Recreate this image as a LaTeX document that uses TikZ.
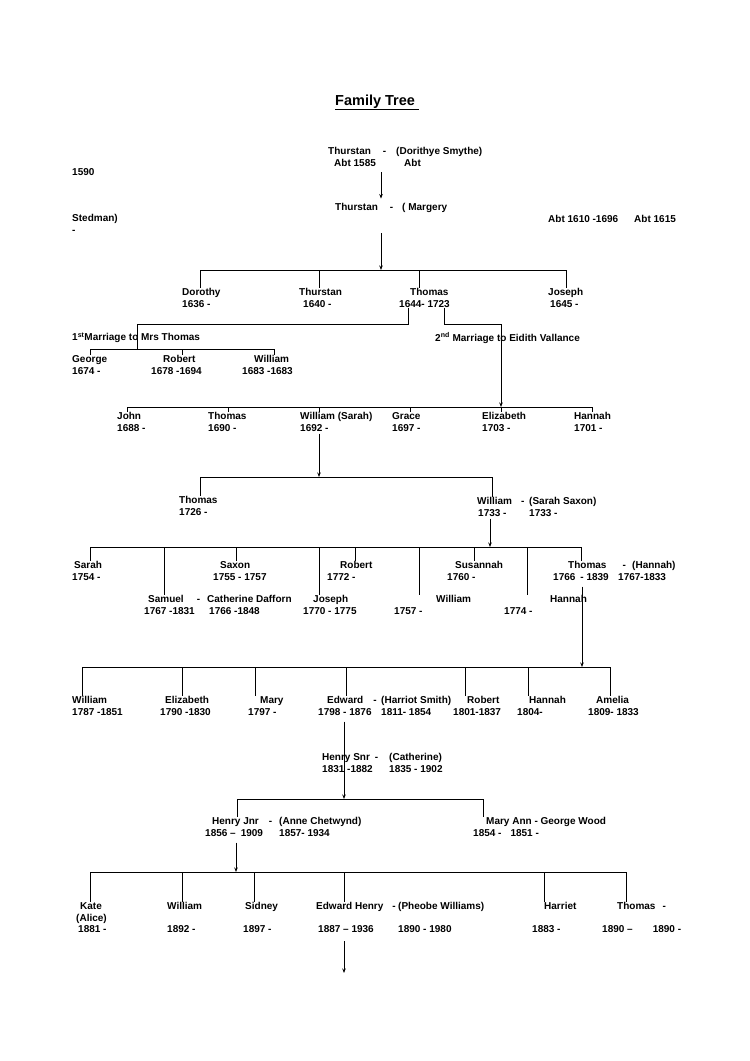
\documentclass[tikz,border=0pt]{standalone}
\usepackage{fontspec}
\setmainfont{Liberation Sans}
\usetikzlibrary{arrows.meta}
\newcommand{\treefont}{\fontsize{10}{11.5}\selectfont\bfseries}

\begin{document}
\begin{tikzpicture}[
  x=1pt, y=-1pt,
  person/.style={anchor=north west, inner sep=0pt, align=left, font=\treefont, yshift=4.45pt},
  heading/.style={anchor=base west, inner sep=0pt, font=\fontsize{14.5}{17}\selectfont\bfseries},
  link/.style={line width=0.9pt},
  arrow/.style={link, -{Stealth[length=4.5pt, width=3.5pt]}}
]
\useasboundingbox[fill=white] (0,0) rectangle (750,1061);

\node[heading] (title) at (335,105) {\underline{Family Tree\ }};

% Thurstan and Dorithye
\node[person] (thurstan1) at (328,151) {\strut Thurstan\hspace{12pt}-\\\hspace*{6pt}Abt 1585};
\node[person] (dorithye) at (396,151) {\strut(Dorithye Smythe)\\\hspace*{8pt}Abt};
\node[person] (born1590) at (72,172) {\strut 1590};
\coordinate (top1) at (381,172);

\node[person] (thurstan2) at (335,207) {\strut Thurstan\hspace{12pt}-};
\node[person] (margery) at (402,207) {\strut( Margery};
\node[person] (stedman) at (72,218) {\strut Stedman)\\-};
\node[person] (life2) at (548,219) {\strut Abt 1610 -1696};
\node[person] (born1615) at (634,219) {\strut Abt 1615};
\coordinate (top2) at (381,233);

\draw[arrow, shorten >=4pt] (top1) -- (top1 |- thurstan2.north);

% children of Thurstan
\node[person] (dorothy) at (182,292) {\strut Dorothy\\1636 -};
\node[person] (thurstan3) at (299,292) {\strut Thurstan\\\hspace*{4pt}1640 -};
\node[person] (thomas1) at (399,292) {\strut\hspace*{11pt}Thomas\\1644- 1723};
\node[person] (joseph1) at (548,292) {\strut Joseph\\\hspace*{2pt}1645 -};

\coordinate (g1) at (381,270);
\coordinate (g1a) at (200,270);
\coordinate (g1b) at (319,270);
\coordinate (g1c) at (419,270);
\coordinate (g1d) at (566,270);
\draw[arrow] (top2) -- (g1);
\draw[link] (g1a) -- (g1d);
\draw[link] (g1a) -- (g1a |- dorothy.north);
\draw[link] (g1b) -- (g1b |- thurstan3.north);
\draw[link] (g1c) -- (g1c |- thomas1.north);
\draw[link] (g1d) -- (g1d |- joseph1.north);

% two marriages of Thomas
\node[person] (marriage1) at (72,337) {\strut 1\textsuperscript{st}Marriage to Mrs Thomas};
\node[person] (marriage2) at (435,337) {\strut 2\textsuperscript{nd} Marriage to Eidith Vallance};
\coordinate (wed1) at (408,324);
\coordinate (wed1end) at (137,324);
\coordinate (wed2) at (444,324);
\coordinate (wed2end) at (501,324);
\draw[link] (thomas1.south -| wed1) -- (wed1) -- (wed1end);
\draw[link] (thomas1.south -| wed2) -- (wed2) -- (wed2end);

% first marriage
\node[person] (george) at (72,359) {\strut George\\1674 -};
\node[person] (robert1) at (151,359) {\strut\hspace*{12pt}Robert\\1678 -1694};
\node[person] (william1) at (242,359) {\strut\hspace*{12pt}William\\1683 -1683};

\coordinate (g2) at (137,349);
\coordinate (g2a) at (90,349);
\coordinate (g2b) at (182,349);
\coordinate (g2c) at (274,349);
\draw[link] (wed1end) -- (g2);
\draw[link] (g2a) -- (g2c);
\draw[link] (g2a) -- (g2a |- george.north);
\draw[link] (g2b) -- (g2b |- robert1.north);
\draw[link] (g2c) -- (g2c |- william1.north);

% second marriage
\node[person] (john) at (117,416) {\strut John\\1688 -};
\node[person] (thomas2) at (208,416) {\strut Thomas\\1690 -};
\node[person] (william2) at (300,416) {\strut William (Sarah)\\1692 -};
\node[person] (grace) at (392,416) {\strut Grace\\1697 -};
\node[person] (elizabeth1) at (482,416) {\strut Elizabeth\\1703 -};
\node[person] (hannah1) at (574,416) {\strut Hannah\\1701 -};

\coordinate (g3) at (501,407);
\coordinate (g3a) at (127,407);
\coordinate (g3b) at (228,407);
\coordinate (g3c) at (319,407);
\coordinate (g3d) at (410,407);
\coordinate (g3e) at (501,407);
\coordinate (g3f) at (592,407);
\draw[arrow] (wed2end) -- (g3);
\draw[link] (g3a) -- (g3f);
\draw[link] (g3a) -- (g3a |- john.north);
\draw[link] (g3b) -- (g3b |- thomas2.north);
\draw[link] (g3c) -- (g3c |- william2.north);
\draw[link] (g3d) -- (g3d |- grace.north);
\draw[link] (g3e) -- (g3e |- elizabeth1.north);
\draw[link] (g3f) -- (g3f |- hannah1.north);

% children of William and Sarah
\node[person] (thomas3) at (179,500) {\strut Thomas\\1726 -};
\node[person] (william3) at (477,501) {\strut William\hspace{9pt}-\\\hspace*{1pt}1733 -};
\node[person] (sarahSaxon) at (529,501) {\strut(Sarah Saxon)\\1733 -};

\coordinate (g4) at (319,477);
\coordinate (g4a) at (200,477);
\coordinate (g4b) at (492,477);
\draw[arrow, shorten <=2pt] (william2.south -| g4) -- (g4);
\draw[link] (g4a) -- (g4b);
\draw[link] (g4a) -- (g4a |- thomas3.north);
\draw[link] (g4b) -- (g4b |- william3.north);

% children of William and Sarah Saxon
\node[person] (sarah) at (72,565) {\strut\hspace*{2pt}Sarah\\1754 -};
\node[person] (saxon) at (213,565) {\strut\hspace*{7pt}Saxon\\1755 - 1757};
\node[person] (robert2) at (327,565) {\strut\hspace*{13pt}Robert\\1772 -};
\node[person] (susannah) at (447,565) {\strut\hspace*{8pt}Susannah\\1760 -};
\node[person] (thomas4) at (553,565) {\strut\hspace*{15pt}Thomas\hspace{16pt}-\\1766\hspace{5pt}- 1839};
\node[person] (hannah3) at (618,565) {\strut\hspace*{14pt}(Hannah)\\1767-1833};
\node[person] (samuel) at (144,599) {\strut\hspace*{4pt}Samuel\hspace{13pt}-\\1767 -1831};
\node[person] (catherine1) at (207,599) {\strut Catherine Dafforn\\\hspace*{2pt}1766 -1848};
\node[person] (joseph2) at (303,599) {\strut\hspace*{10pt}Joseph\\1770 - 1775};
\node[person] (william4) at (394,599) {\strut\hspace*{42pt}William\\1757 -};
\node[person] (hannah2) at (504,599) {\strut\hspace*{46pt}Hannah\\1774 -};

\coordinate (g5) at (490,547);
\coordinate (g5a) at (90,547);
\coordinate (g5b) at (164,547);
\coordinate (g5c) at (236,547);
\coordinate (g5d) at (319,547);
\coordinate (g5e) at (355,547);
\coordinate (g5f) at (419,547);
\coordinate (g5g) at (474,547);
\coordinate (g5h) at (527,547);
\coordinate (g5i) at (581,547);
\draw[arrow, shorten <=2pt] (william3.south -| g5) -- (g5);
\draw[link] (g5a) -- (g5i);
\draw[link] (g5a) -- (g5a |- sarah.north);
\draw[link] (g5b) -- (g5b |- samuel.north);
\draw[link] (g5c) -- (g5c |- saxon.north);
\draw[link] (g5d) -- (g5d |- joseph2.north);
\draw[link] (g5e) -- (g5e |- robert2.north);
\draw[link] (g5f) -- (g5f |- william4.north);
\draw[link] (g5g) -- (g5g |- susannah.north);
\draw[link] (g5h) -- (g5h |- hannah2.north);
\draw[link] (g5i) -- (g5i |- thomas4.north);

% children of Thomas and Hannah
\node[person] (william5) at (72,700) {\strut William\\1787 -1851};
\node[person] (elizabeth2) at (160,700) {\strut\hspace*{5pt}Elizabeth\\1790 -1830};
\node[person] (mary) at (248,700) {\strut\hspace*{12pt}Mary\\1797 -};
\node[person] (edward) at (318,700) {\strut\hspace*{9pt}Edward\hspace{10pt}-\\1798 - 1876};
\node[person] (harriot) at (381,700) {\strut(Harriot Smith)\\1811- 1854};
\node[person] (robert3) at (453,700) {\strut\hspace*{14pt}Robert\\1801-1837};
\node[person] (hannah4) at (517,700) {\strut\hspace*{12pt}Hannah\\1804-};
\node[person] (amelia) at (588,700) {\strut\hspace*{8pt}Amelia\\1809- 1833};

\coordinate (g6) at (582,667);
\coordinate (g6a) at (82,667);
\coordinate (g6b) at (182,667);
\coordinate (g6c) at (255,667);
\coordinate (g6d) at (346,667);
\coordinate (g6e) at (465,667);
\coordinate (g6f) at (528,667);
\coordinate (g6g) at (610,667);
\draw[arrow, shorten <=6pt] (thomas4.south -| g6) -- (g6);
\draw[link] (g6a) -- (g6g);
\draw[link] (g6a) -- (g6a |- william5.north);
\draw[link] (g6b) -- (g6b |- elizabeth2.north);
\draw[link] (g6c) -- (g6c |- mary.north);
\draw[link] (g6d) -- (g6d |- edward.north);
\draw[link] (g6e) -- (g6e |- robert3.north);
\draw[link] (g6f) -- (g6f |- hannah4.north);
\draw[link] (g6g) -- (g6g |- amelia.north);

% Henry Snr and his children
\node[person] (henrySnr) at (322,757) {\strut Henry Snr\hspace{5pt}-\\1831 -1882};
\node[person] (catherine2) at (389,757) {\strut(Catherine)\\1835 - 1902};
\node[person] (henryJnr) at (205,821) {\strut\hspace*{7pt}Henry Jnr\hspace{10pt}-\\1856 --\hspace{5pt}1909};
\node[person] (anne) at (279,821) {\strut(Anne Chetwynd)\\1857- 1934};
\node[person] (maryAnn) at (473,821) {\strut\hspace*{13pt}Mary Ann - George Wood\\1854 -\hspace{9pt}1851 -};

\coordinate (g7) at (344,799);
\coordinate (g7a) at (237,799);
\coordinate (g7b) at (483,799);
\draw[arrow, shorten <=6pt] (edward.south -| g7) -- (g7);
\draw[link] (g7a) -- (g7b);
\draw[link] (g7a) -- (g7a |- henryJnr.north);
\draw[link] (g7b) -- (g7b |- maryAnn.north);

% children of Henry Jnr and Anne
\node[person] (kate) at (76,906) {\strut\hspace*{4pt}Kate\\(Alice)\\\hspace*{2pt}1881 -};
\node[person] (william6) at (167,906) {\strut William\\[11.5pt]1892 -};
\node[person] (sidney) at (243,906) {\strut\hspace*{2pt}Sidney\\[11.5pt]1897 -};
\node[person] (edwardHenry) at (316,906) {\strut Edward Henry\hspace{9pt}-\\[11.5pt]\hspace*{2pt}1887 -- 1936};
\node[person] (pheobe) at (398,906) {\strut(Pheobe Williams)\\[11.5pt]1890 - 1980};
\node[person] (harriet) at (532,906) {\strut\hspace*{12pt}Harriet\\[11.5pt]1883 -};
\node[person] (thomas5) at (602,906) {\strut\hspace*{15pt}Thomas\hspace{7pt}-\\[11.5pt]1890 --\hspace{20pt}1890 -};

\coordinate (g8) at (236,872);
\coordinate (g8a) at (90,872);
\coordinate (g8b) at (182,872);
\coordinate (g8c) at (254,872);
\coordinate (g8d) at (344,872);
\coordinate (g8e) at (544,872);
\coordinate (g8f) at (626,872);
\draw[arrow, shorten <=6pt] (henryJnr.south -| g8) -- (g8);
\draw[link] (g8a) -- (g8f);
\draw[link] (g8a) -- (g8a |- kate.north);
\draw[link] (g8b) -- (g8b |- william6.north);
\draw[link] (g8c) -- (g8c |- sidney.north);
\draw[link] (g8d) -- (g8d |- edwardHenry.north);
\draw[link] (g8e) -- (g8e |- harriet.north);
\draw[link] (g8f) -- (g8f |- thomas5.north);

\coordinate (more) at (344,973);
\draw[arrow, shorten <=8pt] (edwardHenry.south -| more) -- (more);

\end{tikzpicture}
\end{document}
